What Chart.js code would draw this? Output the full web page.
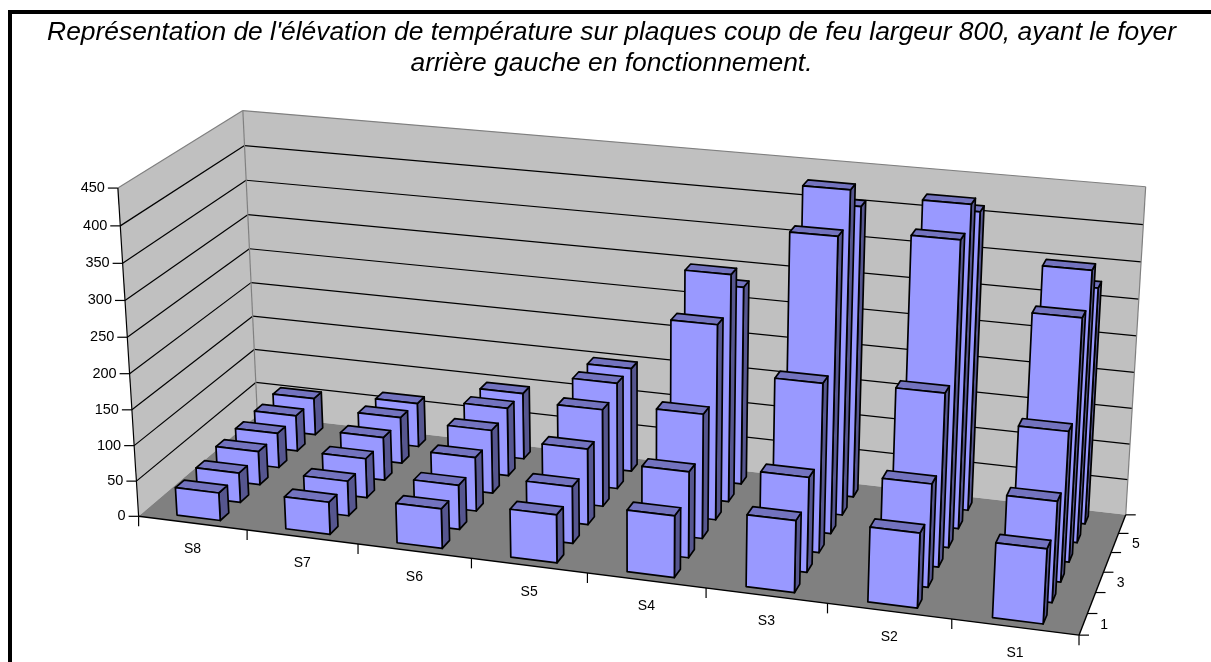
<!DOCTYPE html>
<html>
<head>
<meta charset="utf-8">
<title>Élévation de température</title>
<script src="https://cdn.jsdelivr.net/npm/chart.js@4"></script>
<style>
    html, body { margin: 0; background: #fff; overflow: hidden; }
    #frame { position: absolute; left: 8px; top: 10px; right: 0; bottom: 0; border-left: 4px solid #000; border-top: 4px solid #000; }
    #chart { position: absolute; left: 0; top: 0; }
</style>
</head>
<body>
<div id="frame"></div>
<canvas id="chart" width="1211" height="662"></canvas>
<script>
const plaques = ['S8', 'S7', 'S6', 'S5', 'S4', 'S3', 'S2', 'S1'];
const rangs = ['1', '2', '3', '4', '5', '6'];
const rang1 = [39, 45, 55, 66, 84, 97, 100, 99];
const rang2 = [42, 49, 62, 79, 118, 129, 139, 135];
const rang3 = [48, 56, 76, 106, 172, 231, 235, 202];
const rang4 = [50, 62, 90, 137, 271, 404, 414, 328];
const rang5 = [52, 67, 98, 151, 318, 446, 441, 369];
const rang6 = [54, 64, 96, 149, 280, 405, 412, 325];
const series = [rang1, rang2, rang3, rang4, rang5, rang6];
const titre = [
    "Représentation de l'élévation de température sur plaques coup de feu largeur 800, ayant le foyer",
    'arrière gauche en fonctionnement.'
];

// corners of the box on screen: [u, v, w] -> [px, py]
const corners = [
    [[0, 0, 0], [138.5, 516.5]],
    [[0, 1, 0], [118, 188]],
    [[0, 1, 1], [242.7, 110.7]],
    [[0, 0, 1], [257.5, 415]],
    [[1, 1, 1], [1145.7, 186.7]],
    [[1, 0, 1], [1125.7, 515]],
    [[1, 0, 0], [1079, 635]],
];

// least squares camera matrix, last coefficient fixed to 1
function solveCamera(pairs) {
    const rows = [];
    pairs.forEach(([[u, v, w], [px, py]]) => {
        rows.push([u, v, w, 1, 0, 0, 0, 0, -px * u, -px * v, -px * w, px]);
        rows.push([0, 0, 0, 0, u, v, w, 1, -py * u, -py * v, -py * w, py]);
    });
    const n = 11;
    const m = [];
    for (let i = 0; i < n; i++) {
        m.push([]);
        for (let j = 0; j <= n; j++) {
            m[i].push(rows.reduce((sum, r) => sum + r[i] * r[j], 0));
        }
    }
    for (let c = 0; c < n; c++) {
        let best = c;
        for (let r = c + 1; r < n; r++) if (Math.abs(m[r][c]) > Math.abs(m[best][c])) best = r;
        [m[c], m[best]] = [m[best], m[c]];
        for (let r = 0; r < n; r++) {
            if (r === c) continue;
            const f = m[r][c] / m[c][c];
            for (let j = c; j <= n; j++) m[r][j] -= f * m[c][j];
        }
    }
    return m.map((row, i) => row[n] / row[i]);
}

const cam = solveCamera(corners);

function project(u, v, w) {
    const d = cam[8] * u + cam[9] * v + cam[10] * w + 1;
    return [
        (cam[0] * u + cam[1] * v + cam[2] * w + cam[3]) / d,
        (cam[4] * u + cam[5] * v + cam[6] * w + cam[7]) / d
    ];
}

function poly(ctx, pts, fill, stroke, lineWidth) {
    ctx.beginPath();
    pts.forEach((p, i) => i ? ctx.lineTo(p[0], p[1]) : ctx.moveTo(p[0], p[1]));
    ctx.closePath();
    if (fill) { ctx.fillStyle = fill; ctx.fill(); }
    if (stroke) { ctx.strokeStyle = stroke; ctx.lineWidth = lineWidth; ctx.stroke(); }
}

function line(ctx, a, b, color, lineWidth) {
    ctx.beginPath();
    ctx.moveTo(a[0], a[1]);
    ctx.lineTo(b[0], b[1]);
    ctx.strokeStyle = color;
    ctx.lineWidth = lineWidth;
    ctx.stroke();
}

const box3d = {
    id: 'box3d',
    beforeDatasetsDraw(chart) {
        const ctx = chart.ctx;
        const { x: sx, y: sy, z: sz } = chart.scales;
        // scale pixels -> unit cube
        const U = px => (px - sx.left) / sx.width;
        const V = py => (sy.bottom - py) / sy.height;
        const W = pz => (pz - sz.left) / sz.width;

        ctx.save();
        ctx.lineJoin = 'round';

        // walls and floor
        poly(ctx, [project(0, 0, 0), project(0, 1, 0), project(0, 1, 1), project(0, 0, 1)], '#c0c0c0');
        poly(ctx, [project(0, 0, 1), project(0, 1, 1), project(1, 1, 1), project(1, 0, 1)], '#c0c0c0');
        poly(ctx, [project(0, 0, 0), project(0, 0, 1), project(1, 0, 1), project(1, 0, 0)], '#808080');

        // value gridlines and axis
        ctx.font = '14.5px "Liberation Sans"';
        ctx.fillStyle = '#000';
        ctx.textAlign = 'right';
        ctx.textBaseline = 'middle';
        sy.ticks.forEach(t => {
            const v = V(sy.getPixelForValue(t.value));
            const a = project(0, v, 0);
            const b = project(0, v, 1);
            const c = project(1, v, 1);
            if (t.value > 0 && t.value < 450) {
                line(ctx, a, b, '#000', 1.2);
                line(ctx, b, c, '#000', 1.2);
            }
            line(ctx, [a[0] - 10, a[1]], a, '#000', 1.2);
            ctx.fillStyle = '#000';
            ctx.fillText(t.label, a[0] - 13, a[1]);
        });

        // wall edges
        line(ctx, project(0, 1, 0), project(0, 1, 1), '#808080', 1.2);
        line(ctx, project(0, 1, 1), project(1, 1, 1), '#808080', 1.2);
        line(ctx, project(0, 0, 1), project(0, 1, 1), '#808080', 1.2);
        line(ctx, project(1, 0, 1), project(1, 1, 1), '#808080', 1.2);
        line(ctx, project(0, 0, 0), project(0, 1, 0), '#000', 1.2);

        // floor edges
        line(ctx, project(0, 0, 0), project(1, 0, 0), '#000', 1.4);
        line(ctx, project(1, 0, 0), project(1, 0, 1), '#000', 1.4);

        // category ticks and labels along the front edge
        ctx.font = '14px "Liberation Sans"';
        ctx.textAlign = 'center';
        plaques.forEach((name, i) => {
            const c = project(U(sx.getPixelForValue(i)), 0, 0);
            ctx.fillStyle = '#000';
            ctx.fillText(name, c[0], c[1] + 26);
        });
        for (let i = 0; i <= plaques.length; i++) {
            const p = project(U(sx.getPixelForValue(i - 0.5)), 0, 0);
            line(ctx, p, [p[0], p[1] + 10], '#000', 1.2);
        }

        // depth ticks, every other label
        for (let i = 0; i <= rangs.length; i++) {
            const p = project(1, 0, W(sz.getPixelForValue(i - 0.5)));
            line(ctx, p, [p[0] + 10, p[1]], '#000', 1.2);
        }
        ctx.textAlign = 'center';
        rangs.forEach((name, i) => {
            if (i % 2) return;
            const p = project(1, 0, W(sz.getPixelForValue(i)));
            ctx.fillStyle = '#000';
            ctx.fillText(name, p[0] + 21, p[1] + 1);
        });

        // bars, back row first
        const depth = (1 / rangs.length) * 0.42 / 2;
        for (let d = series.length - 1; d >= 0; d--) {
            const meta = chart.getDatasetMeta(d);
            const wc = W(sz.getPixelForValue(d));
            meta.data.forEach(bar => {
                const u0 = U(bar.x - bar.width / 2);
                const u1 = U(bar.x + bar.width / 2);
                const top = V(bar.y);
                const w0 = wc - depth;
                const w1 = wc + depth;
                poly(ctx, [project(u1, 0, w0), project(u1, top, w0), project(u1, top, w1), project(u1, 0, w1)], '#56568f', '#000', 1.7);
                poly(ctx, [project(u0, top, w0), project(u0, top, w1), project(u1, top, w1), project(u1, top, w0)], '#7373bf', '#000', 1.7);
                poly(ctx, [project(u0, 0, w0), project(u0, top, w0), project(u1, top, w0), project(u1, 0, w0)], '#9999ff', '#000', 1.7);
            });
        }
        ctx.restore();
        return false;
    }
};

new Chart(document.getElementById('chart').getContext('2d'), {
    type: 'bar',
    data: {
        labels: plaques,
        datasets: series.map((values, i) => ({ label: rangs[i], data: values }))
    },
    options: {
        responsive: false,
        animation: false,
        layout: { padding: { left: 12, top: 14 } },
        datasets: { bar: { grouped: false, barPercentage: 0.4, categoryPercentage: 1 } },
        plugins: {
            legend: { display: false },
            tooltip: { enabled: false },
            title: {
                display: true,
                text: titre,
                color: '#000',
                padding: { top: 3, bottom: 10 },
                font: { family: '"Liberation Sans"', size: 26.4, style: 'italic', weight: 'normal', lineHeight: 1.17 }
            }
        },
        scales: {
            x: { display: false },
            y: { display: false, min: 0, max: 450, ticks: { stepSize: 50 } },
            z: { axis: 'x', type: 'category', labels: rangs, display: false }
        }
    },
    plugins: [box3d]
});
</script>
</body>
</html>
